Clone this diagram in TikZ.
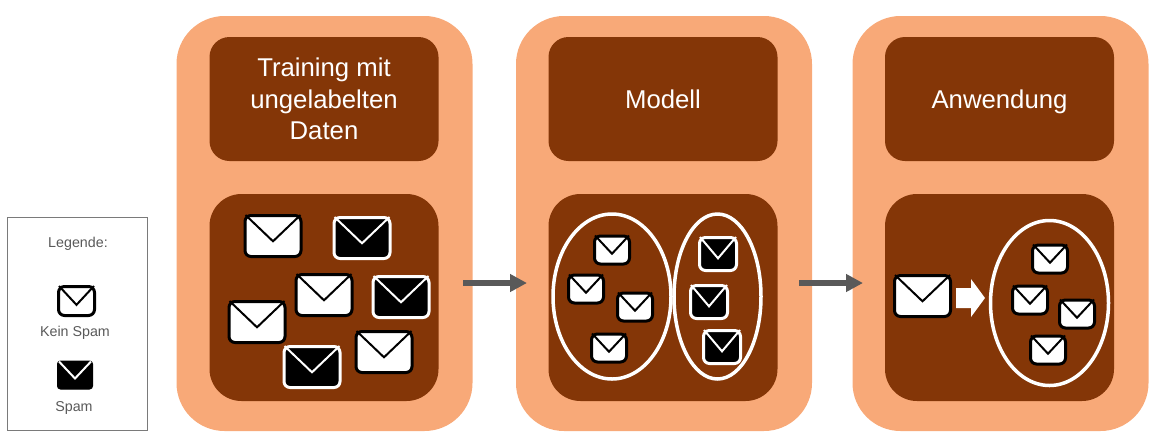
\documentclass[tikz,border=0pt]{standalone}
\usepackage{fontspec}
\setmainfont{Liberation Sans}
\usetikzlibrary{arrows.meta,calc,shapes.geometric}

\definecolor{panelorange}{HTML}{F8A978}
\definecolor{panelbrown}{HTML}{843607}
\definecolor{legendgray}{HTML}{595959}
\definecolor{arrowgray}{HTML}{595959}

\def\px{0.75pt}

\tikzset{
  panel/.style={fill=panelorange, rounded corners=48*\px, inner sep=0pt, minimum width=296*\px, minimum height=415*\px},
  head/.style={fill=panelbrown, text=white, rounded corners=20*\px, inner sep=0pt, minimum width=229*\px, minimum height=124*\px, align=center, font=\fontsize{19.3}{23.6}\selectfont},
  body/.style={fill=panelbrown, rounded corners=32*\px, inner sep=0pt, minimum width=229*\px, minimum height=207*\px},
  legendbox/.style={draw=legendgray!80, line width=1*\px, inner sep=0pt, minimum width=140*\px, minimum height=213*\px},
  legendtext/.style={text=legendgray, inner sep=0pt, font=\fontsize{10.7}{13}\selectfont},
  plainmail/.style={draw=black, fill=white, line width=3*\px, rounded corners=6*\px, inner sep=0pt},
  spammail/.style={draw=white, fill=black, line width=3*\px, rounded corners=6*\px, inner sep=0pt},
  solidmail/.style={draw=black, fill=black, line width=1*\px, rounded corners=3*\px, inner sep=0pt},
  plainflap/.style={draw=black, line width=2*\px},
  spamflap/.style={draw=white, line width=2*\px},
  solidflap/.style={draw=white, line width=2*\px},
  bigmail/.style={minimum width=56*\px, minimum height=41*\px},
  smallmail/.style={minimum width=35*\px, minimum height=28*\px},
  tallmail/.style={minimum width=37*\px, minimum height=33*\px},
  group/.style={draw=white, line width=3.5*\px, shape=ellipse, inner sep=0pt},
  flow/.style={draw=arrowgray, line width=6*\px, -{Triangle[length=17*\px,width=17*\px]}},
  pointer/.style={fill=white}
}

% one envelope: kind, size, name, position
\newcommand{\mailnode}[4]{
  \node[#1mail,#2] (#3) at #4 {};
  \draw[#1flap] ($(#3.north west)+(2,1)$) -- ($(#3.north)!0.62!(#3.south)$) -- ($(#3.north east)+(-2,1)$);
}

\begin{document}
\begin{tikzpicture}[x=\px, y=-\px]
  \useasboundingbox (0,0) rectangle (1160,444);

  % legend
  \node[legendbox] (legend) at (77,323.5) {};
  \node[legendtext] (legendtitle) at (78,244) {Legende:};
  \mailnode{plain}{minimum width=36*\px, minimum height=29*\px}{legendplain}{(76.5,301)}
  \node[legendtext] (legendplaintext) at (75,333) {Kein Spam};
  \mailnode{solid}{minimum width=35*\px, minimum height=28*\px}{legendspam}{(75,375)}
  \node[legendtext] (legendspamtext) at (74,408) {Spam};

  % panels
  \node[panel] (training) at (324.5,223.5) {};
  \node[panel] (modell) at (664,223.5) {};
  \node[panel] (anwendung) at (1000.5,223.5) {};

  \node[head] (traininghead) at (324,99) {Training mit\\ungelabelten\\Daten};
  \node[head] (modellhead) at (663,99) {Modell};
  \node[head, text depth=0pt] (anwendunghead) at (999.5,99) {Anwendung};

  \node[body] (trainingbody) at (324,297.5) {};
  \node[body] (modellbody) at (663,297.5) {};
  \node[body] (anwendungbody) at (999.5,297.5) {};

  % training mails
  \mailnode{plain}{bigmail}{ta}{(273,236)}
  \mailnode{spam}{bigmail}{tb}{(362,238)}
  \mailnode{plain}{bigmail}{tc}{(324,295)}
  \mailnode{spam}{bigmail}{td}{(401,297)}
  \mailnode{plain}{bigmail}{te}{(257,322)}
  \mailnode{spam}{bigmail}{tf}{(312,367)}
  \mailnode{plain}{bigmail}{tg}{(384,352)}

  % model clusters
  \node[group, minimum width=118*\px, minimum height=165*\px] (clusterplain) at (612,296.5) {};
  \node[group, minimum width=87*\px, minimum height=165*\px] (clusterspam) at (717.5,296.5) {};
  \mailnode{plain}{smallmail}{ma}{(612,250)}
  \mailnode{plain}{smallmail}{mb}{(586,289)}
  \mailnode{plain}{smallmail}{mc}{(635,307)}
  \mailnode{plain}{smallmail}{md}{(609,348)}
  \mailnode{spam}{tallmail}{me}{(718,254)}
  \mailnode{spam}{tallmail}{mf}{(709,302)}
  \mailnode{spam}{tallmail}{mg}{(722,347)}

  % applying the model
  \mailnode{plain}{bigmail}{newmail}{(922.5,296)}
  \node[group, minimum width=118*\px, minimum height=165*\px] (clusterresult) at (1049.5,303) {};
  \mailnode{plain}{smallmail}{aa}{(1050,259)}
  \mailnode{plain}{smallmail}{ab}{(1030,300)}
  \mailnode{plain}{smallmail}{ac}{(1077,314)}
  \mailnode{plain}{smallmail}{ad}{(1048,350)}

  \fill[pointer] (956,288) -- (971,288) -- (971,279) -- (985,298) -- (971,317) -- (971,308) -- (956,308) -- cycle;

  % flow between the panels
  \coordinate (flowaout) at (463,283);
  \coordinate (flowain) at (527,283);
  \coordinate (flowbout) at (799,283);
  \coordinate (flowbin) at (863,283);
  \draw[flow] (flowaout) -- (flowain);
  \draw[flow] (flowbout) -- (flowbin);
\end{tikzpicture}
\end{document}
